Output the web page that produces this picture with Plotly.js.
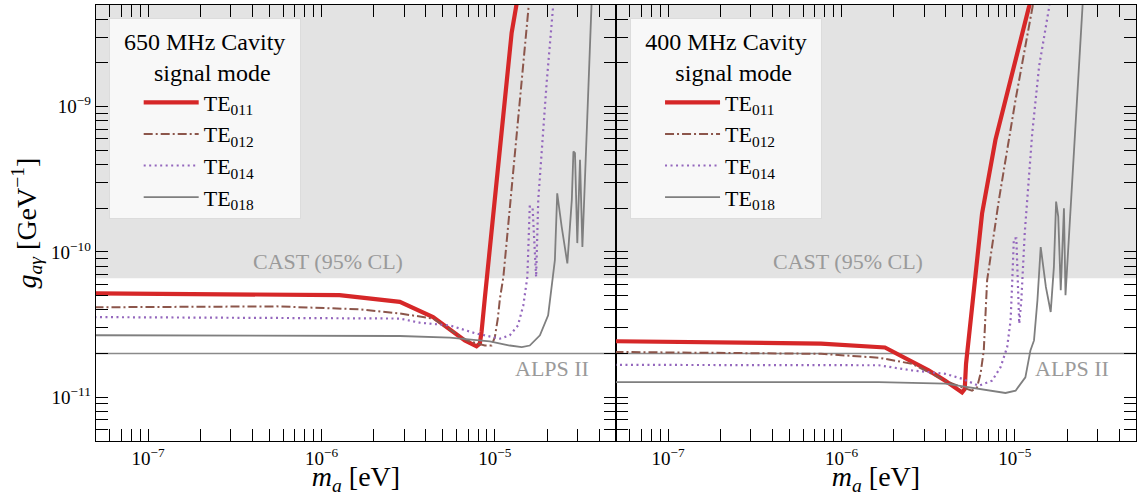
<!DOCTYPE html>
<html>
<head>
<meta charset="utf-8">
<script src="https://cdn.plot.ly/plotly-3.0.1.min.js"></script>
<style>
  html, body { margin: 0; padding: 0; background: #fff; }
  #chart { width: 1137px; height: 496px; }
</style>
</head>
<body>
<div id="chart"></div>
<script>
// ---------- data: 650 MHz cavity (left panel) ----------
const mass650_TE011 = [4.9e-8, 1.27e-6, 2.83e-6, 4.40e-6, 6.71e-6, 7.84e-6, 8.19e-6, 8.38e-6, 8.75e-6, 1.25e-5, 1.38e-5];
const g650_TE011    = [5.19e-11, 5.04e-11, 4.53e-11, 3.56e-11, 2.46e-11, 2.24e-11, 2.34e-11, 2.81e-11, 4.78e-11, 3.22e-9, 6.4e-9];

const mass650_TE012 = [4.9e-8, 5.5e-7, 1.66e-6, 2.83e-6, 4.40e-6, 6.86e-6, 8.75e-6, 9.57e-6, 1.0e-5, 1.04e-5, 1.07e-5, 1.12e-5, 1.60e-5];
const g650_TE012    = [4.16e-11, 4.22e-11, 4.03e-11, 3.77e-11, 3.48e-11, 2.46e-11, 2.27e-11, 2.27e-11, 2.59e-11, 3.48e-11, 4.78e-11, 6.73e-11, 6.4e-9];

const mass650_TE014 = [4.9e-8, 2.83e-6, 3.68e-6, 5.50e-6, 7.84e-6, 1.07e-5, 1.22e-5, 1.36e-5, 1.46e-5, 1.51e-5, 1.54e-5, 1.59e-5, 1.65e-5, 1.73e-5, 1.78e-5, 1.99e-5, 2.17e-5, 2.21e-5];
const g650_TE014    = [3.56e-11, 3.48e-11, 3.26e-11, 3.12e-11, 2.74e-11, 2.53e-11, 2.67e-11, 3.12e-11, 4.30e-11, 5.90e-11, 6.73e-11, 2.05e-10, 2.05e-10, 6.73e-11, 2.28e-10, 1.46e-9, 4.92e-9, 6.4e-9];

const mass650_TE018 = [4.9e-8, 2.83e-6, 5.50e-6, 9.35e-6, 1.22e-5, 1.43e-5, 1.59e-5, 1.82e-5, 2.03e-5, 2.13e-5, 2.22e-5, 2.29e-5, 2.43e-5, 2.62e-5, 2.78e-5, 2.84e-5, 2.90e-5, 2.99e-5, 3.10e-5, 3.20e-5, 3.64e-5];
const g650_TE018    = [2.67e-11, 2.64e-11, 2.57e-11, 2.42e-11, 2.27e-11, 2.21e-11, 2.27e-11, 2.67e-11, 3.66e-11, 5.90e-11, 8.77e-11, 2.53e-10, 1.49e-10, 8.33e-11, 2.28e-10, 4.91e-10, 4.79e-10, 1.15e-10, 4.30e-10, 1.08e-10, 6.4e-9];

// ---------- data: 400 MHz cavity (right panel) ----------
const mass400_TE011 = [4.9e-8, 7.62e-7, 1.78e-6, 2.55e-6, 3.18e-6, 3.97e-6, 4.74e-6, 4.96e-6, 5.14e-6, 5.23e-6, 6.47e-6, 7.73e-6, 1.21e-5, 1.25e-5];
const g400_TE011    = [2.43e-11, 2.34e-11, 2.20e-11, 1.75e-11, 1.53e-11, 1.30e-11, 1.11e-11, 1.08e-11, 1.14e-11, 1.70e-11, 1.84e-10, 5.91e-10, 4.92e-9, 6.0e-9];

const mass400_TE012 = [4.9e-8, 7.62e-7, 1.64e-6, 2.55e-6, 3.18e-6, 3.97e-6, 4.96e-6, 5.66e-6, 6.05e-6, 6.34e-6, 6.62e-6, 6.92e-6, 8.09e-6, 1.01e-5, 1.32e-5];
const g400_TE012    = [2.05e-11, 1.99e-11, 1.87e-11, 1.70e-11, 1.49e-11, 1.30e-11, 1.17e-11, 1.11e-11, 1.17e-11, 1.45e-11, 2.10e-11, 6.38e-11, 2.28e-10, 1.12e-9, 6.4e-9];

const mass400_TE014 = [4.9e-8, 1.64e-6, 2.55e-6, 3.97e-6, 4.96e-6, 6.19e-6, 7.39e-6, 8.27e-6, 9.03e-6, 9.45e-6, 9.65e-6, 9.87e-6, 1.02e-5, 1.03e-5, 1.06e-5, 1.09e-5, 1.14e-5, 1.26e-5, 1.38e-5, 1.57e-5, 1.62e-5];
const g400_TE014    = [1.67e-11, 1.66e-11, 1.53e-11, 1.45e-11, 1.34e-11, 1.20e-11, 1.30e-11, 1.61e-11, 2.21e-11, 3.38e-11, 6.06e-11, 1.24e-10, 1.24e-10, 7.89e-11, 3.21e-11, 4.65e-11, 1.34e-10, 6.58e-10, 1.89e-9, 4.67e-9, 6.4e-9];

const mass400_TE018 = [4.9e-8, 1.64e-6, 3.97e-6, 6.19e-6, 8.83e-6, 1.01e-5, 1.15e-5, 1.23e-5, 1.29e-5, 1.35e-5, 1.41e-5, 1.51e-5, 1.61e-5, 1.68e-5, 1.73e-5, 1.78e-5, 1.84e-5, 1.92e-5, 1.96e-5, 2.49e-5];
const g400_TE018    = [1.27e-11, 1.27e-11, 1.24e-11, 1.14e-11, 1.07e-11, 1.11e-11, 1.37e-11, 2.10e-11, 2.46e-11, 4.65e-11, 1.08e-10, 5.74e-11, 3.86e-11, 7.89e-11, 2.22e-10, 1.75e-10, 5.45e-11, 2.00e-10, 5.04e-11, 6.4e-9];

// ---------- reference limits ----------
const castLimit = 6.6e-11;   // CAST (95% CL)
const alpsLimit = 2.0e-11;   // ALPS II

// ---------- labels ----------
const modeNames = ['TE<sub>011</sub>', 'TE<sub>012</sub>', 'TE<sub>014</sub>', 'TE<sub>018</sub>'];
const NB = '\u00a0';
const panelTitles = [
  NB + NB + '650 MHz Cavity' + NB + NB + '<br>' + NB.repeat(7) + 'signal mode',
  NB + NB + '400 MHz Cavity' + NB + NB + '<br>' + NB.repeat(7) + 'signal mode'
];
const xTickVals = [1e-7, 1e-6, 1e-5];
const xTickText = ['10<sup>\u22127</sup>', '10<sup>\u22126</sup>', '10<sup>\u22125</sup>'];
const yTickVals = [1e-11, 1e-10, 1e-9];
const yTickText = ['10<sup>\u221211</sup>', '10<sup>\u221210</sup>', '10<sup>\u22129</sup>'];
const xRange = [5e-8, 5e-5];
const yRange = [5e-12, 5e-9];

// ---------- styling ----------
const FONT = '"Liberation Serif", "DejaVu Serif", serif';
const styles = [
  {color: '#d62728', width: 4.2, dash: 'solid'},
  {color: '#8c564b', width: 2, dash: '9px,3px,2px,3px'},
  {color: '#9467bd', width: 2.2, dash: '2px,3.5px'},
  {color: '#7f7f7f', width: 1.8, dash: 'solid'}
];

function minorVals(lo, hi) {
  const out = [];
  for (let e = Math.floor(Math.log10(lo)); e <= Math.ceil(Math.log10(hi)); e++) {
    for (let m = 2; m <= 9; m++) {
      const v = m * Math.pow(10, e);
      if (v >= lo && v <= hi) out.push(v);
    }
  }
  return out;
}

const panels = [
  {xs: [mass650_TE011, mass650_TE012, mass650_TE014, mass650_TE018],
   ys: [g650_TE011, g650_TE012, g650_TE014, g650_TE018], xa: 'x', ya: 'y', legend: 'legend'},
  {xs: [mass400_TE011, mass400_TE012, mass400_TE014, mass400_TE018],
   ys: [g400_TE011, g400_TE012, g400_TE014, g400_TE018], xa: 'x2', ya: 'y2', legend: 'legend2'}
];

const traces = [];
panels.forEach(p => {
  for (let i = 0; i < 4; i++) {
    traces.push({
      type: 'scatter', mode: 'lines',
      x: p.xs[i], y: p.ys[i],
      xaxis: p.xa, yaxis: p.ya,
      name: modeNames[i],
      legend: p.legend,
      line: {color: styles[i].color, width: styles[i].width, dash: styles[i].dash},
      hoverinfo: 'skip'
    });
  }
});

function xAxis(domain) {
  return {
    type: 'log', domain: domain,
    range: [Math.log10(xRange[0]), Math.log10(xRange[1])],
    showline: true, linecolor: '#000', linewidth: 1.3, mirror: 'allticks',
    ticks: 'inside', ticklen: 12, tickwidth: 1, tickcolor: '#000',
    tickmode: 'array', tickvals: xTickVals, ticktext: xTickText,
    tickfont: {family: FONT, size: 19, color: '#000'},
    minor: {tickmode: 'array', tickvals: minorVals(xRange[0], xRange[1]), ticks: 'inside', ticklen: 12, tickwidth: 1, tickcolor: '#000', showgrid: false},
    showgrid: false, zeroline: false,
    title: {text: '<i>m</i><sub><i>a</i></sub> [eV]', font: {family: FONT, size: 28, color: '#000'}, standoff: 7}
  };
}
function yAxis(anchor, labels) {
  return {
    type: 'log', anchor: anchor,
    range: [Math.log10(yRange[0]), Math.log10(yRange[1])],
    showline: true, linecolor: '#000', linewidth: 1.3, mirror: 'allticks',
    ticks: 'inside', ticklen: 12, tickwidth: 1, tickcolor: '#000',
    tickmode: 'array', tickvals: yTickVals, ticktext: yTickText,
    showticklabels: labels,
    tickfont: {family: FONT, size: 19, color: '#000'},
    minor: {tickmode: 'array', tickvals: minorVals(yRange[0], yRange[1]), ticks: 'inside', ticklen: 12, tickwidth: 1, tickcolor: '#000', showgrid: false},
    showgrid: false, zeroline: false,
    title: labels ? {text: '<i>g</i><sub><i>a\u03b3</i></sub> [GeV<sup>\u22121</sup>]', font: {family: FONT, size: 28, color: '#000'}, standoff: 6} : {text: ''}
  };
}

function legendCfg(x, title) {
  return {
    x: x, y: 0.97, xanchor: 'left', yanchor: 'top',
    bgcolor: 'rgba(250,250,250,0.92)', bordercolor: '#dcdcdc', borderwidth: 1,
    font: {family: FONT, size: 22, color: '#000'},
    title: {text: title, side: 'top center', font: {family: FONT, size: 24, color: '#000'}},
    itemwidth: 55, indentation: 29, tracegroupgap: 0
  };
}

const shapes = [];
const annotations = [];
[['x', 'y'], ['x2', 'y2']].forEach(([xa, ya]) => {
  shapes.push({type: 'rect', xref: xa + ' domain', yref: ya, x0: 0, x1: 1, y0: castLimit, y1: yRange[1],
               fillcolor: '#e3e3e3', line: {width: 0}, layer: 'below'});
  shapes.push({type: 'line', xref: xa + ' domain', yref: ya, x0: 0, x1: 1, y0: alpsLimit, y1: alpsLimit,
               line: {color: '#8a8a8a', width: 1.3}, layer: 'below'});
  annotations.push({xref: xa + ' domain', yref: 'paper', x: 0.447, y: (441 - 261) / 436,
                    text: 'CAST (95% CL)', showarrow: false, xanchor: 'center', yanchor: 'middle',
                    font: {family: FONT, size: 22, color: '#9a9a9a'}});
  annotations.push({xref: xa + ' domain', yref: 'paper', x: 0.876, y: (441 - 368) / 436,
                    text: 'ALPS II', showarrow: false, xanchor: 'center', yanchor: 'middle',
                    font: {family: FONT, size: 22, color: '#9a9a9a'}});
});

const layout = {
  width: 1137, height: 496,
  margin: {l: 96, r: 1, t: 5, b: 55},
  paper_bgcolor: '#fff', plot_bgcolor: '#fff',
  font: {family: FONT, color: '#000'},
  xaxis: xAxis([0, 0.5]),
  xaxis2: xAxis([0.5, 1]),
  yaxis: yAxis('x', true),
  yaxis2: yAxis('x2', false),
  legend: legendCfg(0.0122, panelTitles[0]),
  legend2: legendCfg(0.5135, panelTitles[1]),
  shapes: shapes,
  annotations: annotations,
  showlegend: true
};
layout.yaxis2.matches = 'y';

Plotly.newPlot('chart', traces, layout, {displayModeBar: false, staticPlot: true});
</script>
</body>
</html>
